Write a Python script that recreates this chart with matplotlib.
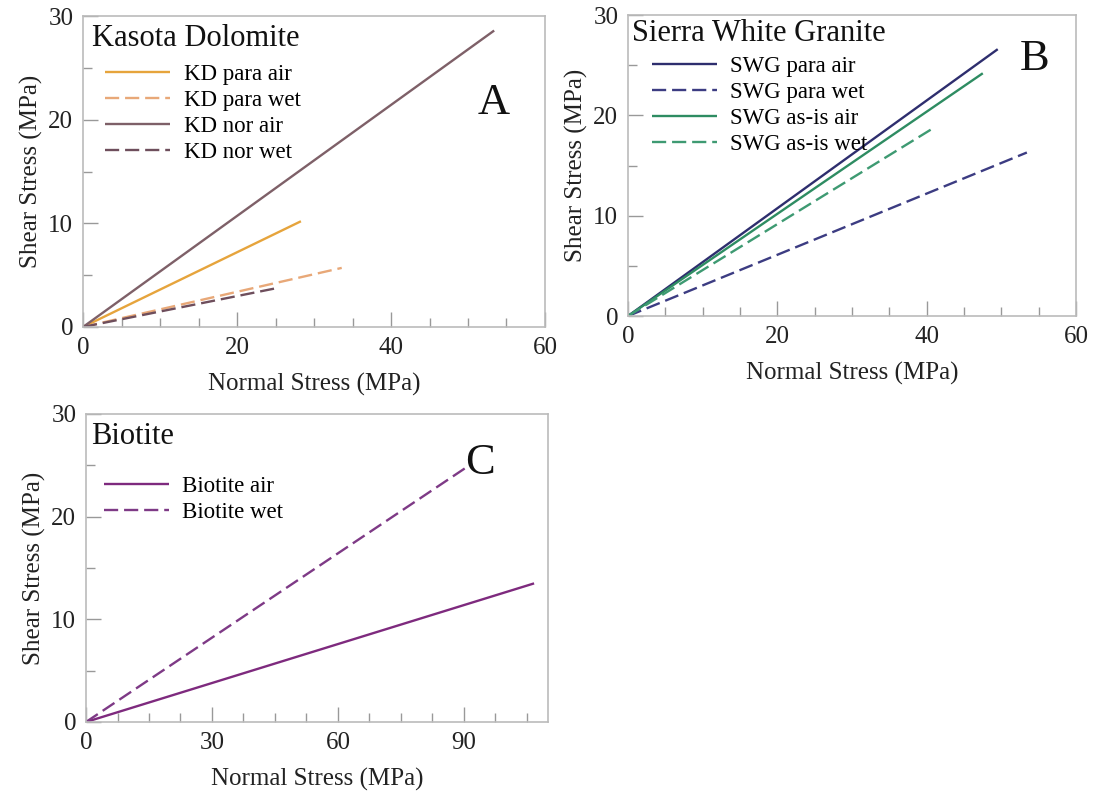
import matplotlib
matplotlib.use("Agg")
import matplotlib.pyplot as plt
from matplotlib.ticker import MultipleLocator

plt.rcParams['font.family'] = ['Liberation Serif', 'DejaVu Serif']

# Panel A: Kasota Dolomite (line end points, lines start at origin)
kd_labels = ["KD para air", "KD para wet", "KD nor air", "KD nor wet"]
kd_end_x = [28.3, 33.6, 53.4, 25.5]
kd_end_y = [10.2, 5.7, 28.6, 3.8]
kd_colors = ["#E6A43C", "#E8A878", "#7E6068", "#6E4E5C"]
kd_styles = ["solid", "dashed", "solid", "dashed"]

# Panel B: Sierra White Granite
swg_labels = ["SWG para air", "SWG para wet", "SWG as-is air", "SWG as-is wet"]
swg_end_x = [49.5, 53.4, 47.5, 40.8]
swg_end_y = [26.6, 16.3, 24.2, 18.7]
swg_colors = ["#2E2E6E", "#3C3C82", "#2E8C62", "#3E9A72"]
swg_styles = ["solid", "dashed", "solid", "dashed"]

# Panel C: Biotite
bio_labels = ["Biotite air", "Biotite wet"]
bio_end_x = [106.7, 90.2]
bio_end_y = [13.5, 24.7]
bio_colors = ["#7E2A7E", "#7E3A86"]
bio_styles = ["solid", "dashed"]

fig = plt.figure(figsize=(10.97, 7.94), dpi=100)

panels = [
    dict(rect=[0.0757, 0.5882, 0.4211, 0.3916], labels=kd_labels, ex=kd_end_x, ey=kd_end_y,
         colors=kd_colors, styles=kd_styles, title="Kasota Dolomite", letter="A",
         xmax=60, xmaj=20, xmin=5, letter_pos=(0.89, 0.72), leg=(0.038, 0.862),
         title_pos=(0.02, 0.929)),
    dict(rect=[0.5725, 0.602, 0.4085, 0.379], labels=swg_labels, ex=swg_end_x, ey=swg_end_y,
         colors=swg_colors, styles=swg_styles, title="Sierra White Granite", letter="B",
         xmax=60, xmaj=20, xmin=5, letter_pos=(0.908, 0.855), leg=(0.043, 0.88),
         title_pos=(0.009, 0.94)),
    dict(rect=[0.0784, 0.0907, 0.4211, 0.3879], labels=bio_labels, ex=bio_end_x, ey=bio_end_y,
         colors=bio_colors, styles=bio_styles, title="Biotite", letter="C",
         xmax=110, xmaj=30, xmin=7.5, letter_pos=(0.853, 0.84), leg=(0.029, 0.815),
         title_pos=(0.011, 0.926)),
]

for p in panels:
    ax = fig.add_axes(p["rect"])
    for lab, x1, y1, c, s in zip(p["labels"], p["ex"], p["ey"], p["colors"], p["styles"]):
        ls = "-" if s == "solid" else (0, (6, 2.5))
        ax.plot([0, x1], [0, y1], color=c, lw=1.7, linestyle=ls, label=lab,
                solid_capstyle="butt", dash_capstyle="butt")
    ax.set_xlim(0, p["xmax"])
    ax.set_ylim(0, 30)
    ax.xaxis.set_major_locator(MultipleLocator(p["xmaj"]))
    ax.xaxis.set_minor_locator(MultipleLocator(p["xmin"]))
    ax.yaxis.set_major_locator(MultipleLocator(10))
    ax.yaxis.set_minor_locator(MultipleLocator(5))
    ax.tick_params(which="both", direction="in", top=False, right=False, color="#999999",
                   labelsize=18, labelcolor="#222222", pad=7)
    ax.tick_params(which="major", length=11, width=1)
    ax.tick_params(which="minor", length=6.5, width=1)
    for sp in ax.spines.values():
        sp.set_color("#BBBBBB")
        sp.set_linewidth(1.2)
    ax.set_xlabel("Normal Stress (MPa)", fontsize=18, color="#222222", labelpad=10)
    ax.set_ylabel("Shear Stress (MPa)", fontsize=18, color="#222222", labelpad=4)
    ax.text(p["title_pos"][0], p["title_pos"][1], p["title"], transform=ax.transAxes,
            fontsize=22, va="center", ha="left", color="#111111")
    ax.text(p["letter_pos"][0], p["letter_pos"][1], p["letter"], transform=ax.transAxes,
            fontsize=32, va="center", ha="center", color="#111111")
    ax.legend(loc="upper left", bbox_to_anchor=p["leg"], frameon=False,
              fontsize=16.5, handlelength=2.85, handletextpad=0.57, labelspacing=0.22,
              borderaxespad=0.0, borderpad=0.2)

fig.savefig("out.png", dpi=100)
